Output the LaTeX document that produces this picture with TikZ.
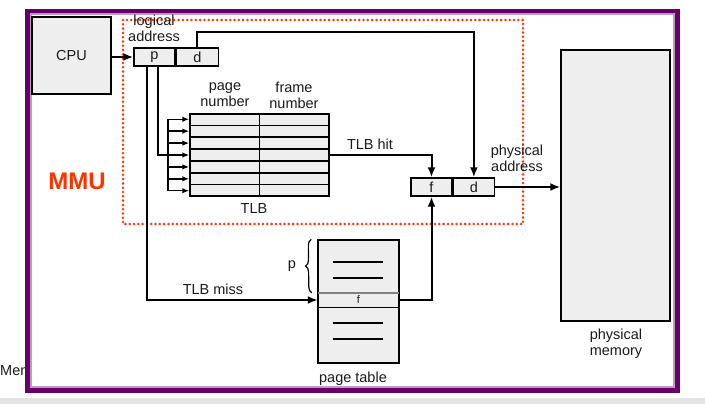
\documentclass[tikz,border=0pt]{standalone}
\usepackage{fontspec}
\setmainfont{Liberation Sans}
\usetikzlibrary{arrows.meta,calc,positioning,decorations.pathreplacing}
\definecolor{framepurple}{HTML}{660066}
\definecolor{mmured}{HTML}{FF3300}
\definecolor{cellgray}{HTML}{EEEEEE}
\definecolor{inkgray}{HTML}{1A1A1A}
\definecolor{bandgray}{HTML}{E4E4E4}
\tikzset{
	cell/.style={draw, fill=cellgray, line width=1.4pt, inner sep=0pt, text=inkgray},
	txt/.style={text=inkgray, align=center, inner sep=0pt},
	wire/.style={line width=2pt},
	arr/.style={-{Latex[length=10pt,width=8pt]}},
	smallarr/.style={line width=1.5pt, -{Latex[length=7pt,width=5.5pt]}}
}
\begin{document}
\begin{tikzpicture}[x=1pt, y=-1pt, font=\fontsize{14.5}{16}\selectfont]
				\useasboundingbox (0,0) rectangle (705,404);
				\fill[bandgray] (0,398) rectangle (705,404);
				\node[txt, anchor=west] (men) at (0,371) {Men};
				\draw[line width=5pt, framepurple, fill=white] (27.5,11.5) rectangle (677.5,390.5);
				\draw[line width=1.5pt, framepurple!40] (30.8,14) rectangle (674.2,387.2);
				\draw[mmured, line width=2.8pt, line cap=round, dash pattern=on 0pt off 4.3pt] (123,20) rectangle (523,224);
				\node[txt, text=mmured, font=\bfseries\fontsize{24}{26}\selectfont] (mmu) at (77,181) {MMU};
				\node[cell, minimum width=79pt, minimum height=77pt] (cpu) at (71.5,55.5) {CPU};
				\node[txt] (la) at (154,28) {logical\\address};
				\node[cell, minimum width=41pt, minimum height=18pt] (lp) at (154.5,57) {p};
				\node[cell, minimum width=42pt, minimum height=18pt, right=0pt of lp] (ld) {d};
				\draw[wire, arr] (cpu.east |- lp.west) -- (lp.west);
				\node[cell, minimum width=139pt, minimum height=82pt] (tlb) at (259.5,155) {};
				\draw[line width=1.4pt] (tlb.north) -- (tlb.south);
				\foreach \i in {1,...,6}
					\draw[line width=1.4pt] ($(tlb.north west)!\i/7!(tlb.south west)$) -- ($(tlb.north east)!\i/7!(tlb.south east)$);
				\node[txt] (pn) at (225,95) {page\\number};
				\node[txt] (fn) at (294,95) {frame\\number};
				\node[txt] (tlbl) at (254,209) {TLB};
				\coordinate (fan) at (168,0);
				\foreach \i in {1,...,7} {
					\coordinate (row\i) at ($(tlb.north west)!{(\i-0.5)/7}!(tlb.south west)$);
					\draw[smallarr] (fan |- row\i) -- (row\i);
				}
				\draw[line width=1.5pt] (fan |- row1) -- (fan |- row7);
				\draw[wire] ([xshift=3.5pt]lp.south) |- (fan |- row4);
				\node[cell, minimum width=41pt, minimum height=18pt] (pf) at (431.5,187) {f};
				\node[cell, minimum width=41pt, minimum height=18pt, right=0pt of pf] (pd) {d};
				\draw[wire, arr] (ld.north) -- ++(0,-15) -| (pd.north);
				\draw[wire, arr] (tlb.east |- row4) -| (pf.north);
				\node[txt] (hit) at (370,144) {TLB hit};
				\node[cell, minimum width=109pt, minimum height=271pt] (mem) at (615.5,185.5) {};
				\draw[wire, arr] (pd.east) -- (mem.west |- pd.east);
				\node[txt] (pa) at (517,158) {physical\\address};
				\node[txt] (meml) at (616,344) {physical\\memory};
				\node[cell, minimum width=81pt, minimum height=123pt] (pt) at (358.5,301.5) {};
				\node[txt, minimum width=81pt, minimum height=14pt, font=\fontsize{11}{12}\selectfont] (ptf) at (358.5,300) {f};
				\draw[line width=1.4pt, gray] (ptf.north west) -- (ptf.north east);
				\draw[line width=1.4pt] (ptf.south west) -- (ptf.south east);
				\foreach \y in {262,278,323,339}
					\draw[line width=1.4pt] (333,\y) -- (383,\y);
				\draw[line width=1.2pt, decorate, decoration={brace, amplitude=6pt}] ([xshift=-6pt]ptf.north west) -- ([xshift=-6pt]pt.north west) node[txt, midway, left=15pt] (pb) {p};
				\node[txt] (ptl) at (353,379) {page table};
				\draw[wire, arr] ([xshift=-7.5pt]lp.south) |- (ptf.west);
				\node[txt] (miss) at (213,289) {TLB miss};
				\draw[wire, arr] (ptf.east) -| (pf.south);
			\end{tikzpicture}
\end{document}
